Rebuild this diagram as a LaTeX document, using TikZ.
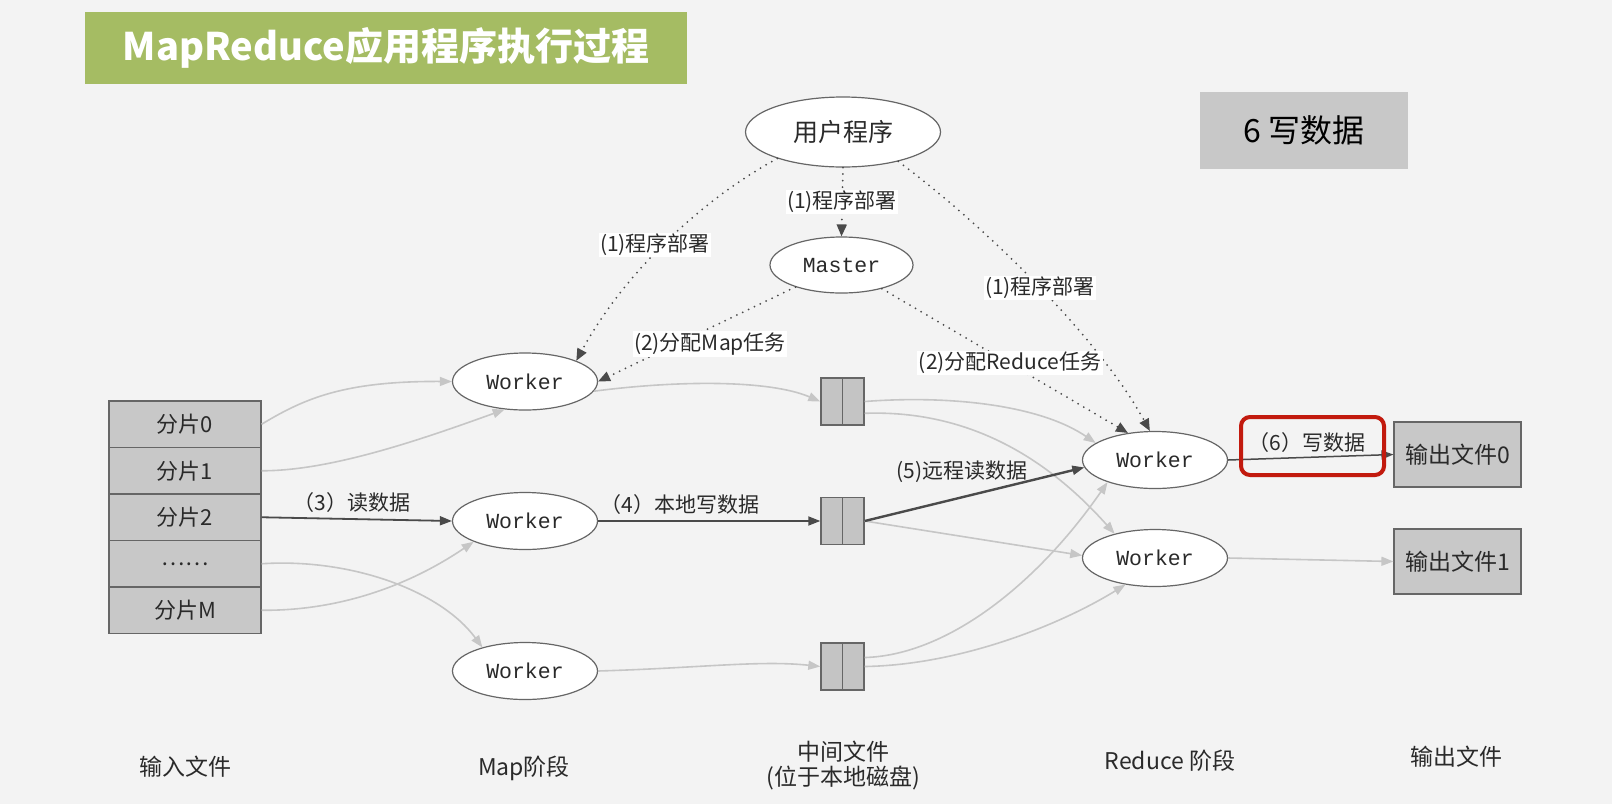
\documentclass[tikz,border=0pt]{standalone}
\usepackage{fontspec}
\setmainfont{Noto Sans CJK SC}
\newfontfamily\wfont{Liberation Mono}
\usetikzlibrary{arrows.meta,shapes.geometric}
\definecolor{bg}{HTML}{F3F3F3}
\definecolor{titlegreen}{HTML}{A5BC63}
\definecolor{boxgray}{HTML}{C8C8C8}
\definecolor{cellgray}{HTML}{C4C4C4}
\definecolor{edgegray}{HTML}{666666}
\definecolor{lightarrow}{HTML}{C6C6C6}
\definecolor{darkarrow}{HTML}{4A4A4A}
\definecolor{redhl}{HTML}{C21A0E}
\definecolor{txt}{HTML}{2A2A2A}
\begin{document}
\begin{tikzpicture}[x=1pt,y=-1pt,
  ell/.style={ellipse, draw=edgegray, line width=1.2pt, fill=white, inner sep=0pt,
    minimum width=145pt, minimum height=57pt, font=\wfont\fontsize{21.5pt}{24pt}\selectfont, text=txt},
  slice/.style={rectangle, draw=edgegray, line width=1.2pt, fill=boxgray, inner sep=0pt,
    minimum width=152pt, minimum height=46.5pt, font=\fontsize{22pt}{26pt}\selectfont, text=txt},
  filebox/.style={rectangle, draw=edgegray, line width=1.4pt, fill=cellgray, inner sep=0pt,
    minimum width=43pt, minimum height=47pt,
    path picture={\draw[edgegray,line width=1.4pt] (path picture bounding box.north) -- (path picture bounding box.south);}},
  outbox/.style={rectangle, draw=edgegray, line width=1.2pt, fill=boxgray, inner sep=0pt,
    minimum width=127pt, minimum height=65pt, font=\fontsize{23pt}{26pt}\selectfont, text=txt},
  gline/.style={draw=lightarrow, line width=1.6pt, -{Triangle[length=12pt,width=9pt]}},
  dline/.style={draw=darkarrow, line width=1.8pt, -{Triangle[length=12pt,width=9pt]}},
  dotline/.style={draw=darkarrow, line width=2pt, line cap=round, dash pattern=on 0pt off 6.5pt,
    -{Triangle[length=12pt,width=10pt]}},
  lab/.style={font=\fontsize{21pt}{24pt}\selectfont, text=txt, inner sep=1.5pt},
  labw/.style={lab, fill=white},
  btm/.style={font=\fontsize{23pt}{26pt}\selectfont, text=txt, inner sep=0pt}
]
\path[use as bounding box, fill=bg] (0,0) rectangle (1612,804);

% title and step box
\node[fill=titlegreen, minimum width=602pt, minimum height=72pt, inner sep=0pt, text=white,
  font=\bfseries\fontsize{38pt}{42pt}\selectfont] (title) at (386,48) {MapReduce应用程序执行过程};
\node[fill=boxgray, minimum width=208pt, minimum height=77pt, inner sep=0pt, text=black,
  font=\fontsize{32pt}{36pt}\selectfont] (stepsix) at (1304,130.5) {6 写数据};

% main nodes
\node[ell, minimum width=195pt, minimum height=70pt, font=\fontsize{25pt}{28pt}\selectfont] (user) at (843,132) {用户程序};
\node[ell, minimum width=143pt, minimum height=56pt] (master) at (841.5,265) {Master};

\node[ell] (mw1) at (525,381.5) {Worker};
\node[ell] (mw2) at (525,521) {Worker};
\node[ell] (mw3) at (525,671) {Worker};

\node[ell] (rw1) at (1155,460) {Worker};
\node[ell] (rw2) at (1155,558) {Worker};

\node[slice] (s0) at (185,424.25) {分片0};
\node[slice] (s1) at (185,470.75) {分片1};
\node[slice] (s2) at (185,517.25) {分片2};
\node[slice] (s3) at (185,563.75) {……};
\node[slice] (sM) at (185,610.25) {分片M};

\node[filebox] (f1) at (842.5,401.5) {};
\node[filebox] (f2) at (842.5,521) {};
\node[filebox] (f3) at (842.5,666.5) {};

\node[outbox] (out0) at (1457.5,454.5) {输出文件0};
\node[outbox] (out1) at (1457.5,561.5) {输出文件1};

% light grey data flows
\draw[gline] (s0.east) .. controls (305,398) and (345,381) .. (mw1.west);
\draw[gline] (s1.east) .. controls (330,471) and (420,440) .. (mw1.234);
\draw[gline] (s3.east) .. controls (350,558) and (440,590) .. (mw3.151);
\draw[gline] (sM.east) .. controls (340,611) and (410,585) .. (mw2.202);
\draw[gline] (mw1.-8) .. controls (680,380) and (770,380) .. (f1.west);
\draw[gline] (mw3.east) .. controls (700,668) and (760,660) .. (f3.west);
\draw[gline] (f1.east) .. controls (950,395) and (1040,405) .. (rw1.164);
\draw[gline] (f1.-28) .. controls (960,410) and (1040,450) .. (rw2.149);
\draw[gline] (f2.east) -- (rw2.178);
\draw[gline] (f3.22) .. controls (950,655) and (1040,580) .. (rw1.205);
\draw[gline] (f3.east) .. controls (960,665) and (1060,625) .. (rw2.222);
\draw[gline] (rw2.east) -- (out1.west);

% dark highlighted flow
\draw[dline] (s2.east) -- (mw2.west);
\draw[dline] (mw2.east) -- (f2.west);
\draw[dline, line width=2.4pt] (f2.east) -- (rw1.186);
\draw[dline, line width=1.5pt] (rw1.east) -- (out0.west);

% dotted control flows
\draw[dotline] (user.south) -- (master.north);
\draw[dotline] (user.202) .. controls (695,203) and (620,280) .. (mw1.22);
\draw[dotline] (user.-28) .. controls (990,230) and (1100,340) .. (rw1.100);
\draw[dotline] (master) -- (mw1.east);
\draw[dotline] (master) -- (rw1.135);

% highlight box
\node[draw=redhl, line width=4pt, rounded corners=9pt, minimum width=143pt, minimum height=58pt, inner sep=0pt] (hl) at (1312.5,446) {};

% labels
\node[labw] (l1a) at (842,202) {(1)程序部署};
\node[labw] (l1b) at (655,245) {(1)程序部署};
\node[labw] (l1c) at (1040,288) {(1)程序部署};
\node[labw] (l2a) at (710,344) {(2)分配Map任务};
\node[labw] (l2b) at (1010,363) {(2)分配Reduce任务};
\node[lab] (l3) at (352,503) {（3）读数据};
\node[lab] (l4) at (680,505) {（4）本地写数据};
\node[lab] (l5) at (962,472) {(5)远程读数据};
\node[lab] (l6) at (1307,443) {（6）写数据};

% bottom captions
\node[btm] (b1) at (185,767) {输入文件};
\node[btm] (b2) at (524,768) {Map阶段};
\node[btm] (b3) at (843,752) {中间文件};
\node[btm] (b4) at (843,778) {(位于本地磁盘)};
\node[btm] (b5) at (1170,761) {Reduce 阶段};
\node[btm] (b6) at (1456,757) {输出文件};
\end{tikzpicture}
\end{document}
